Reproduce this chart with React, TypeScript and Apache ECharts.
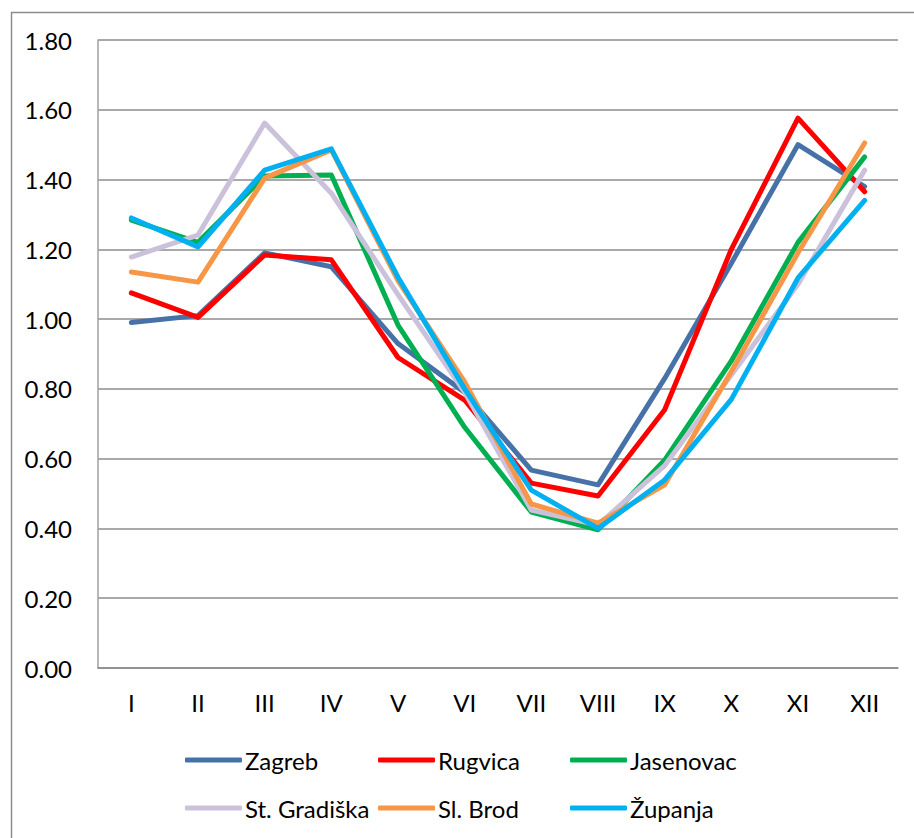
import React, { useEffect, useRef } from "react";
import * as echarts from "echarts";

const months = ["I", "II", "III", "IV", "V", "VI", "VII", "VIII", "IX", "X", "XI", "XII"];

const zagreb = [0.99, 1.01, 1.19, 1.15, 0.93, 0.79, 0.567, 0.525, 0.83, 1.16, 1.5, 1.38];
const rugvica = [1.075, 1.005, 1.184, 1.17, 0.89, 0.768, 0.53, 0.493, 0.74, 1.2, 1.576, 1.365];
const jasenovac = [1.284, 1.22, 1.41, 1.413, 0.983, 0.69, 0.447, 0.396, 0.596, 0.88, 1.22, 1.465];
const stGradiska = [1.178, 1.241, 1.562, 1.361, 1.07, 0.79, 0.453, 0.41, 0.58, 0.84, 1.1, 1.427];
const slBrod = [1.135, 1.106, 1.404, 1.485, 1.11, 0.82, 0.47, 0.415, 0.525, 0.85, 1.19, 1.505];
const zupanja = [1.29, 1.207, 1.427, 1.488, 1.12, 0.8, 0.51, 0.4, 0.539, 0.77, 1.118, 1.34];

const seriesNames = ["Zagreb", "Rugvica", "Jasenovac", "St. Gradiška", "Sl. Brod", "Županja"];
const seriesData = [zagreb, rugvica, jasenovac, stGradiska, slBrod, zupanja];
const seriesColors = ["#4672A8", "#FF0000", "#00B050", "#CCC1DA", "#F79646", "#00B0F0"];

const yTicks = [0, 0.2, 0.4, 0.6, 0.8, 1.0, 1.2, 1.4, 1.6, 1.8];

const FONT = "Lato";
const FS = 24;

export default function App() {
  const ref = useRef<HTMLDivElement>(null);

  useEffect(() => {
    if (!ref.current) return;
    const chart = echarts.init(ref.current, null, { renderer: "svg" });

    const legendLefts = [185, 378, 570];
    const legendTops = [748, 796];

    const legends = seriesNames.map((name, i) => ({
      data: [name],
      left: legendLefts[i % 3],
      top: legendTops[Math.floor(i / 3)],
      orient: "horizontal",
      icon: "roundRect",
      itemWidth: 57,
      itemHeight: 5,
      padding: 0,
      textStyle: { fontFamily: FONT, fontSize: FS, color: "#000", padding: [0, 0, 0, -2] },
    }));

    chart.setOption({
      animation: false,
      backgroundColor: "#fff",
      textStyle: { fontFamily: FONT },
      graphic: [
        {
          type: "rect",
          left: 9,
          top: 10,
          shape: { x: 0, y: 0, width: 1000, height: 1000 },
          style: { fill: "none", stroke: "#8c8c8c", lineWidth: 1.5 },
          silent: true,
        },
      ],
      grid: { left: 98, right: 16, top: 40, bottom: 170, containLabel: false },
      legend: legends,
      xAxis: {
        type: "category",
        data: months,
        boundaryGap: true,
        axisLine: { show: true, lineStyle: { color: "#8c8c8c", width: 1.5 } },
        axisTick: { show: false },
        axisLabel: { fontFamily: FONT, fontSize: FS, color: "#000", margin: 22 },
      },
      yAxis: {
        type: "value",
        min: yTicks[0],
        max: yTicks[yTicks.length - 1],
        interval: 0.2,
        axisLine: { show: true, lineStyle: { color: "#a0a0a0", width: 1.5 } },
        axisTick: { show: false },
        axisLabel: {
          fontFamily: FONT,
          fontSize: FS,
          color: "#000",
          margin: 26,
          formatter: (v: number) => v.toFixed(2),
        },
        splitLine: { show: true, lineStyle: { color: "#8c8c8c", width: 1.5 } },
      },
      series: seriesNames.map((name, i) => ({
        name,
        type: "line",
        data: seriesData[i],
        showSymbol: false,
        symbol: "none",
        color: seriesColors[i],
        itemStyle: { color: seriesColors[i] },
        lineStyle: { color: seriesColors[i], width: 5, cap: "round", join: "round" },
      })),
    });

    return () => chart.dispose();
  }, []);

  return (
    <div
      ref={ref}
      style={{ position: "absolute", left: 0, top: 0, width: 914, height: 838 }}
    />
  );
}
